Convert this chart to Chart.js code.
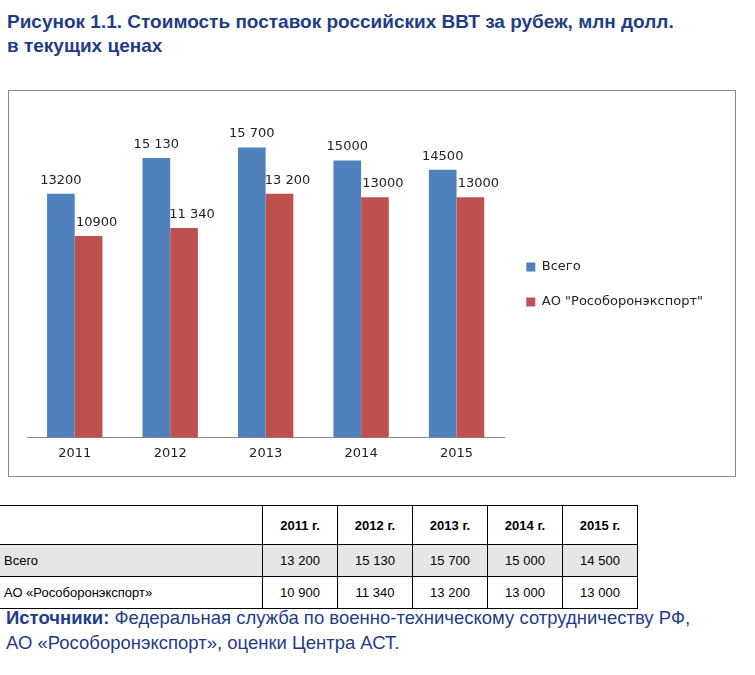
<!DOCTYPE html>
<html><head><meta charset="utf-8">
<script src="https://cdn.jsdelivr.net/npm/chart.js@4"></script>
<style>
body{margin:0;background:#fff;font-family:"Liberation Sans",Arial,sans-serif;width:755px;height:675px;overflow:hidden;position:relative}
#title{position:absolute;left:7px;top:10px;color:#1f3c88;font-weight:bold;font-size:19px;line-height:24px}
#box{position:absolute;left:8px;top:90px;width:728px;height:387px;border:1px solid #888;box-sizing:border-box}
table{position:absolute;left:-1px;top:505px;border-collapse:collapse;font-size:13px}
td{border:1px solid #000;height:31px;padding:0 4px;text-align:center;width:66px}
td.n{text-align:left;width:254px}
tr.g td{background:#e6e6e6}
th{border:1px solid #000;height:36px;font-weight:bold;font-size:13px}
#src{position:absolute;left:6px;top:605px;color:#1f3c88;font-size:18.5px;line-height:25px}
</style></head><body>
<div id="title">Рисунок 1.1. Стоимость поставок российских ВВТ за рубеж, млн долл.<br>в текущих ценах</div>
<div id="box"><canvas id="c"></canvas></div>
<table id="t"></table>
<div id="src"><b>Источники:</b> Федеральная служба по военно-техническому сотрудничеству РФ,<br>АО «Рособоронэкспорт», оценки Центра АСТ.</div>
<script>
// ==== DATA ====
const years       = ['2011','2012','2013','2014','2015'];
const totalVals   = [13200, 15130, 15700, 15000, 14500];
const roeVals     = [10900, 11340, 13200, 13000, 13000];
const totalLabels = ['13200','15 130','15 700','15000','14500'];
const roeLabels   = ['10900','11 340','13 200','13000','13000'];
const tableCols   = ['2011 г.','2012 г.','2013 г.','2014 г.','2015 г.'];
const tableTotal  = ['13 200','15 130','15 700','15 000','14 500'];
const tableRoe    = ['10 900','11 340','13 200','13 000','13 000'];

// ==== TABLE ====
let html = '<tr><th></th>' + tableCols.map(c=>`<th>${c}</th>`).join('') + '</tr>';
html += '<tr class="g"><td class="n">Всего</td>' + tableTotal.map(v=>`<td>${v}</td>`).join('') + '</tr>';
html += '<tr><td class="n">АО «Рособоронэкспорт»</td>' + tableRoe.map(v=>`<td>${v}</td>`).join('') + '</tr>';
document.getElementById('t').innerHTML = html;

// ==== VALUE LABELS ====
const valueLabels = {
  id:'valueLabels',
  afterDatasetsDraw(chart){
    const ctx = chart.ctx;
    const sets = [totalLabels, roeLabels];
    ctx.save();
    ctx.font = '13px "DejaVu Sans"';
    ctx.fillStyle = '#222';
    ctx.textAlign = 'center';
    chart.data.datasets.forEach((ds,di)=>{
      chart.getDatasetMeta(di).data.forEach((bar,i)=>{
        ctx.fillText(sets[di][i], bar.x + (di===0 ? 0 : 8), bar.y - 10);
      });
    });
    ctx.restore();
  }
};

new Chart(document.getElementById('c'),{
  type:'bar',
  data:{
    labels: years,
    datasets:[
      {label:'Всего', data: totalVals, backgroundColor:'#4f81bd'},
      {label:'АО "Рособоронэкспорт"', data: roeVals, backgroundColor:'#c0504d'}
    ]
  },
  options:{
    responsive:true, maintainAspectRatio:false, animation:false,
    layout:{padding:{left:18,right:22,top:14,bottom:12}},
    datasets:{bar:{categoryPercentage:0.58, barPercentage:1}},
    scales:{
      x:{grid:{display:false,drawTicks:true,tickLength:5,color:'#888'},border:{color:'#888'},
         ticks:{color:'#222',font:{size:13,family:'DejaVu Sans'}}},
      y:{display:false,min:0,max:18000}
    },
    plugins:{
      legend:{position:'right',labels:{boxWidth:9,boxHeight:9,padding:22,color:'#222',font:{size:13,family:'DejaVu Sans'}}},
      tooltip:{enabled:false}
    }
  },
  plugins:[valueLabels]
});
</script>
</body></html>
